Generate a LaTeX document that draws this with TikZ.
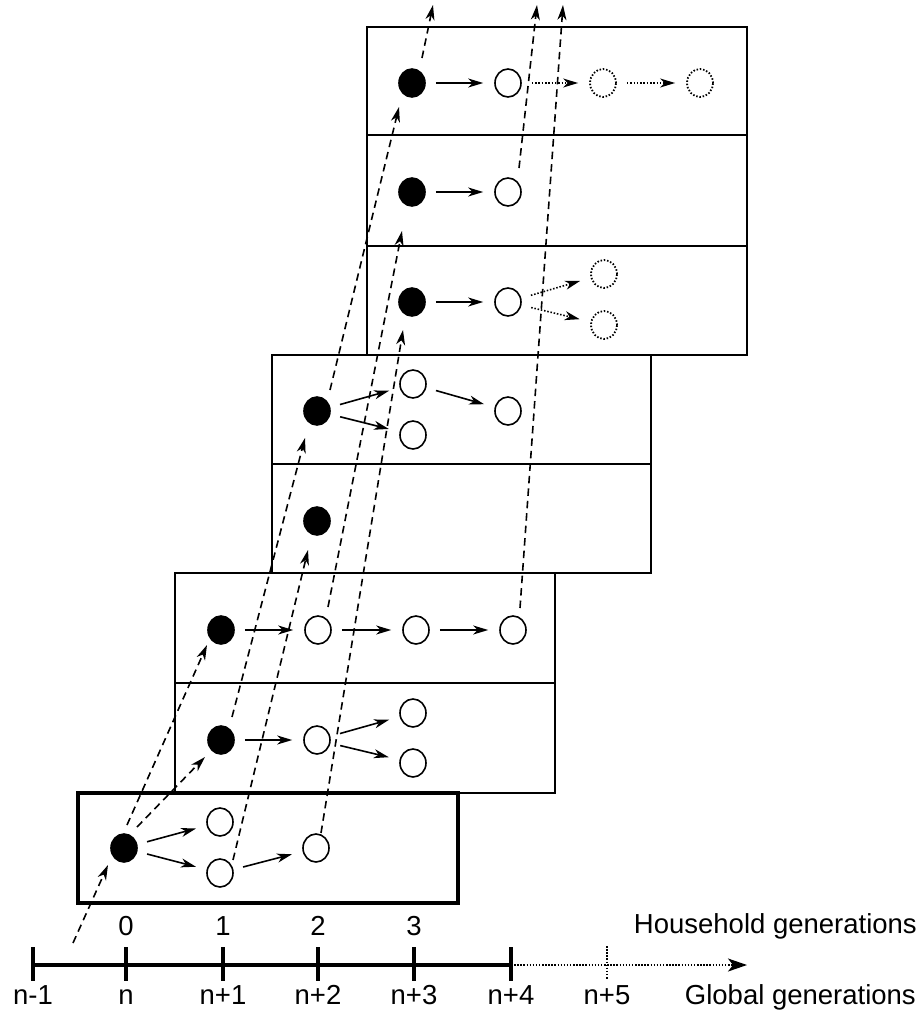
\documentclass[tikz,border=0pt]{standalone}
\usepackage{fontspec}
\setmainfont{Liberation Sans}
\usetikzlibrary{arrows.meta,shapes.geometric,calc}
\begin{document}
\begin{tikzpicture}[x=1pt,y=-1pt,
  person/.style={ellipse,draw,line width=1.6pt,minimum width=26pt,minimum height=28pt,inner sep=0pt},
  inf/.style={person,fill=black},
  sus/.style={person,fill=white},
  ghost/.style={person,line width=1.8pt,dash pattern=on 1.5pt off 1.8pt},
  arr/.style={-{Stealth[length=15pt,width=9pt,inset=4.5pt]}},
  hh/.style={arr,line width=1.6pt,shorten <=10pt,shorten >=11pt},
  hhd/.style={hh,dash pattern=on 1.5pt off 1.8pt},
  gl/.style={arr,line width=1.6pt,dash pattern=on 7.5pt off 5pt},
  hbox/.style={draw,line width=1.7pt},
  lab/.style={font=\fontsize{27.5}{30}\selectfont,inner sep=0pt,anchor=base}
]
\useasboundingbox (0,0) rectangle (922,1012);

% household boxes
\draw[hbox] (367,27) rectangle (747,355);
\draw[hbox] (367,135) -- (747,135);
\draw[hbox] (367,246) -- (747,246);
\draw[hbox] (272,355) rectangle (651,573);
\draw[hbox] (272,464) -- (651,464);
\draw[hbox] (175,573) rectangle (555,793);
\draw[hbox] (175,683) -- (555,683);
\draw[line width=3.8pt] (78,793) rectangle (458,903);

% household 0
\node[inf] (A0) at (124,848) {};
\node[sus] (A1u) at (220,822) {};
\node[sus] (A1l) at (220,873) {};
\node[sus] (A2) at (316,848) {};
% household B
\node[inf] (B1f) at (221,630) {};
\node[sus] (B1o1) at (318,630) {};
\node[sus] (B1o2) at (416,630) {};
\node[sus] (B1o3) at (513,630) {};
\node[inf] (B2f) at (221,740) {};
\node[sus] (B2o) at (317,740) {};
\node[sus] (B2u) at (413,713) {};
\node[sus] (B2l) at (413,763) {};
% household C
\node[inf] (C1f) at (317,411) {};
\node[sus] (C1u) at (413,384) {};
\node[sus] (C1l) at (413,435) {};
\node[sus] (C1r) at (508,411) {};
\node[inf] (C2f) at (317,521) {};
% household D
\node[inf] (D1f) at (412,83) {};
\node[sus] (D1o) at (508,83) {};
\node[ghost] (D1g1) at (603,83) {};
\node[ghost] (D1g2) at (700,83) {};
\node[inf] (D2f) at (412,192) {};
\node[sus] (D2o) at (508,192) {};
\node[inf] (D3f) at (412,302) {};
\node[sus] (D3o) at (508,302) {};
\node[ghost] (D3u) at (604,274) {};
\node[ghost] (D3l) at (604,325) {};

% within-household arrows
\draw[hh] (A0) -- (A1u);
\draw[hh] (A0) -- (A1l);
\draw[hh] (A1l) -- (A2);
\draw[hh] (B1f) -- (B1o1);
\draw[hh] (B1o1) -- (B1o2);
\draw[hh] (B1o2) -- (B1o3);
\draw[hh] (B2f) -- (B2o);
\draw[hh] (B2o) -- (B2u);
\draw[hh] (B2o) -- (B2l);
\draw[hh] (C1f) -- (C1u);
\draw[hh] (C1f) -- (C1l);
\draw[hh] (C1u) -- (C1r);
\draw[hh] (D1f) -- (D1o);
\draw[hhd] (D1o) -- (D1g1);
\draw[hhd] (D1g1) -- (D1g2);
\draw[hh] (D2f) -- (D2o);
\draw[hh] (D3f) -- (D3o);
\draw[hhd] (D3o) -- (D3u);
\draw[hhd] (D3o) -- (D3l);

% between-household (global) infections
\coordinate (s0) at (73,943);
\coordinate (t1) at (433,5);
\coordinate (t2) at (537,5);
\coordinate (t3) at (563,5);
\draw[gl] (s0) -- ($(A0)+(-16,17)$);
\draw[gl] ($(A0)+(3,-23)$) -- ($(B1f)+(-14,15)$);
\draw[gl] ($(A0)+(13,-21)$) -- ($(B2f)+(-16,17)$);
\draw[gl] ($(A1l)+(13,-13)$) -- ($(C2f)+(-9,29)$);
\draw[gl] ($(A2)+(5,-15)$) -- ($(D3f)+(-9,28)$);
\draw[gl] ($(B2f)+(11,-23)$) -- ($(C1f)+(-12,27)$);
\draw[gl] ($(B1o1)+(10,-23)$) -- ($(D2f)+(-10,39)$);
\draw[gl] ($(B1o3)+(7,-22)$) -- (t3);
\draw[gl] ($(C1f)+(13,-21)$) -- ($(D1f)+(-13,24)$);
\draw[gl] ($(D1f)+(10,-25)$) -- (t1);
\draw[gl] ($(D2o)+(11,-24)$) -- (t2);

% axis
\coordinate (g0) at (33,965);
\coordinate (g1) at (126,965);
\coordinate (g2) at (223,965);
\coordinate (g3) at (318,965);
\coordinate (g4) at (414,965);
\coordinate (g5) at (511,965);
\coordinate (g6) at (607,965);
\coordinate (gend) at (747,965);
\draw[line width=3.2pt] (g0) -- (g5);
\foreach \g in {g0,g1,g2,g3,g4,g5}
  \draw[line width=3.2pt] ($(\g)+(0,-18)$) -- ($(\g)+(0,16)$);
\draw[line width=1.5pt,dash pattern=on 1.5pt off 1.6pt] ($(g6)+(0,-19)$) -- ($(g6)+(0,14)$);
\draw[line width=1.5pt,dash pattern=on 1.5pt off 1.6pt,-{Stealth[length=19pt,width=13pt,inset=5pt]}] (g5) -- (gend);

% labels
\node[lab] (h0) at (126,935) {0};
\node[lab] (h1) at (223,935) {1};
\node[lab] (h2) at (318,935) {2};
\node[lab] (h3) at (414,935) {3};
\node[lab,anchor=base east] (hlab) at (917,933) {Household generations};
\node[lab] (n0) at (33,1004) {n-1};
\node[lab] (n1) at (126,1004) {n};
\node[lab] (n2) at (223,1004) {n+1};
\node[lab] (n3) at (318,1004) {n+2};
\node[lab] (n4) at (414,1004) {n+3};
\node[lab] (n5) at (511,1004) {n+4};
\node[lab] (n6) at (607,1004) {n+5};
\node[lab,anchor=base east] (glab) at (916,1004) {Global generations};
\end{tikzpicture}
\end{document}
